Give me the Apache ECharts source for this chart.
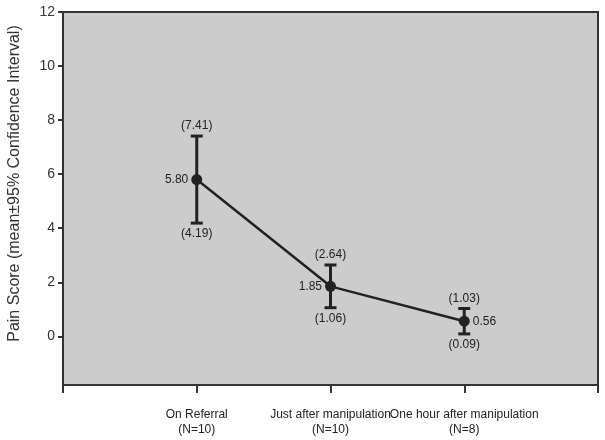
<!DOCTYPE html>
<html>
<head>
	<meta charset="utf-8">
	<title>Pain Score</title>
	<script type="text/javascript" src="https://cdn.jsdelivr.net/npm/echarts@6/dist/echarts.min.js"></script>
	<style>body { margin: 0; }</style>
</head>
<body>
<div id="main" style="width: 605px; height: 440px"></div>

<script type="text/javascript">
var myChart = echarts.init(document.getElementById('main'));

// empty slots at both ends, like the original axis
var categories = ['', 'On Referral\n(N=10)', 'Just after manipulation\n(N=10)', 'One hour after manipulation\n(N=8)', ''];
var means = [5.80, 1.85, 0.56];
var upper = [7.41, 2.64, 1.03];
var lower = [4.19, 1.06, 0.09];
var yTicks = [0, 2, 4, 6, 8, 10, 12];

var font = '"Liberation Sans", Arial, sans-serif';
var ink = '#222';

var lineData = means.map(function (m, i) {
    return {
        value: [i + 1, m],
        label: {position: i === means.length - 1 ? 'right' : 'left'}
    };
});
var barData = means.map(function (m, i) {
    return [i + 1, lower[i], upper[i]];
});

option = {
    animation: false,
    grid: {
        left: 63,
        right: 7,
        top: 12,
        bottom: 55,
        outerBoundsMode: 'none',
        containLabel: false,
        show: true,
        backgroundColor: '#cccccc',
        borderColor: '#333',
        borderWidth: 2
    },
    xAxis: {
        type: 'category',
        data: categories,
        boundaryGap: false,
        axisLine: {onZero: false, lineStyle: {color: '#333', width: 2}},
        axisTick: {length: 8, lineStyle: {color: '#333', width: 2}},
        axisLabel: {
            interval: 0,
            margin: 22,
            fontFamily: font,
            fontSize: 12,
            lineHeight: 15,
            color: '#222'
        },
        splitLine: {show: false}
    },
    yAxis: {
        type: 'value',
        min: -1.8,
        max: 12,
        name: 'Pain Score (mean\u00b195% Confidence Interval)',
        nameLocation: 'middle',
        nameGap: 40,
        nameTextStyle: {fontFamily: font, fontSize: 16, color: '#333', padding: [0, 0, 0, 30]},
        axisLine: {show: true, onZero: false, lineStyle: {color: '#333', width: 2}},
        axisTick: {show: true, customValues: yTicks, length: 5, lineStyle: {color: '#333', width: 2}},
        axisLabel: {customValues: yTicks, margin: 8, fontFamily: font, fontSize: 14, color: '#333'},
        splitLine: {show: false}
    },
    series: [
        {
            type: 'custom',
            data: barData,
            z: 2,
            renderItem: function (params, api) {
                var x = api.value(0), lo = api.value(1), hi = api.value(2);
                var top = api.coord([x, hi]);
                var bot = api.coord([x, lo]);
                var w = 6;
                var st = {stroke: ink, lineWidth: 3};
                var txt = {font: '12px ' + font, fill: '#222', align: 'center'};
                return {
                    type: 'group',
                    children: [
                        {type: 'line', shape: {x1: top[0], y1: top[1], x2: bot[0], y2: bot[1]}, style: st},
                        {type: 'line', shape: {x1: top[0] - w, y1: top[1], x2: top[0] + w, y2: top[1]}, style: st},
                        {type: 'line', shape: {x1: bot[0] - w, y1: bot[1], x2: bot[0] + w, y2: bot[1]}, style: st},
                        {type: 'text', x: top[0], y: top[1] - 4,
                            style: Object.assign({text: '(' + hi.toFixed(2) + ')', verticalAlign: 'bottom'}, txt)},
                        {type: 'text', x: bot[0], y: bot[1] + 5,
                            style: Object.assign({text: '(' + lo.toFixed(2) + ')', verticalAlign: 'top'}, txt)}
                    ]
                };
            }
        },
        {
            type: 'line',
            data: lineData,
            z: 3,
            symbol: 'circle',
            symbolSize: 11,
            itemStyle: {color: ink},
            lineStyle: {color: ink, width: 2.5},
            label: {
                show: true,
                distance: 3,
                fontFamily: font,
                fontSize: 12,
                color: '#222',
                formatter: function (p) { return p.value[1].toFixed(2); }
            }
        }
    ]
};

myChart.setOption(option);
</script>
</body>
</html>
